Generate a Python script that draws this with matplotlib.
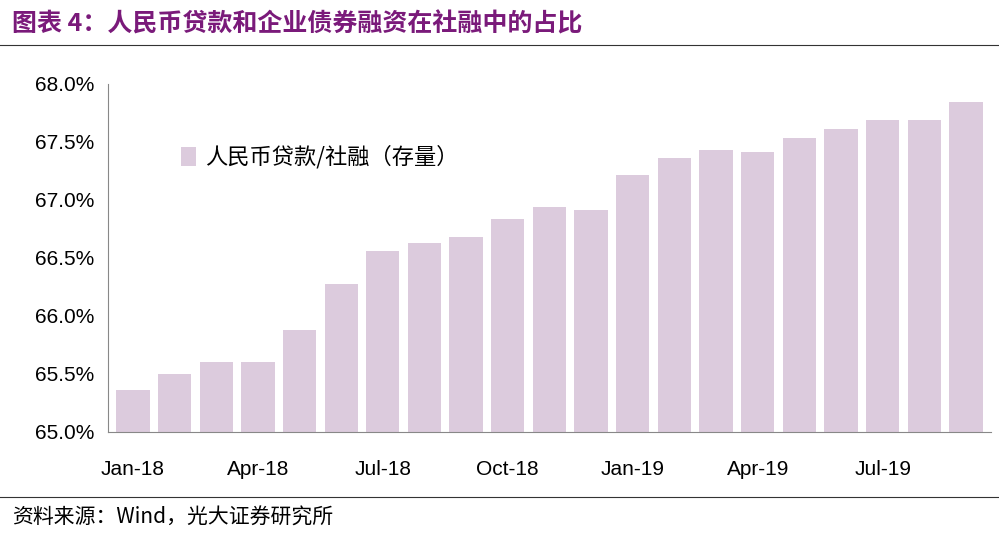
import matplotlib
matplotlib.use("Agg")
import matplotlib.pyplot as plt
from matplotlib.lines import Line2D

plt.rcParams['font.family'] = ['Noto Sans CJK SC', 'DejaVu Sans']

months = ["Jan-18", "Feb-18", "Mar-18", "Apr-18", "May-18", "Jun-18", "Jul-18",
          "Aug-18", "Sep-18", "Oct-18", "Nov-18", "Dec-18", "Jan-19", "Feb-19",
          "Mar-19", "Apr-19", "May-19", "Jun-19", "Jul-19", "Aug-19", "Sep-19"]
share = [65.36, 65.50, 65.60, 65.60, 65.88, 66.27, 66.56, 66.63, 66.68, 66.83,
         66.94, 66.91, 67.21, 67.36, 67.43, 67.41, 67.53, 67.61, 67.69, 67.69, 67.84]
tick_labels = ["Jan-18", "Apr-18", "Jul-18", "Oct-18", "Jan-19", "Apr-19", "Jul-19"]

fig = plt.figure(figsize=(9.99, 5.33), dpi=100)
ax = fig.add_axes([0.108, 0.19, 0.884, 0.653])

x = list(range(len(months)))
ax.bar(x, [v - 65 for v in share], bottom=65, width=0.8, color="#dccbdd",
       label="人民币贷款/社融（存量）")
ax.set_ylim(65, 68)
ax.set_xlim(-0.6, len(months) - 0.4)
ax.set_yticks([65 + 0.5 * i for i in range(7)])
ax.set_yticklabels([f"{65 + 0.5 * i:.1f}%" for i in range(7)], fontsize=15,
                   family=['Liberation Sans', 'DejaVu Sans'])
ax.set_xticks([months.index(m) for m in tick_labels])
ax.set_xticklabels(tick_labels, fontsize=15, family=['Liberation Sans', 'DejaVu Sans'])
ax.tick_params(axis="y", length=0, pad=10)
ax.tick_params(axis="x", length=0, pad=20)
for s in ["top", "right"]:
    ax.spines[s].set_visible(False)
ax.spines["left"].set_color("#888888")
ax.spines["bottom"].set_color("#888888")
ax.legend(loc="upper left", bbox_to_anchor=(0.06, 0.88), frameon=False, fontsize=16,
          handlelength=0.7, handleheight=0.9, handletextpad=0.4)

fig.text(0.012, 0.955, "图表 4：人民币贷款和企业债券融资在社融中的占比", fontsize=18,
         color="#7a1a7a", fontweight="bold", va="center")
fig.add_artist(Line2D([0.0, 1.0], [0.915, 0.915], color="#333333", lw=0.8))
fig.add_artist(Line2D([0.0, 1.0], [0.068, 0.068], color="#333333", lw=0.8))
fig.text(0.012, 0.028, "资料来源：Wind，光大证券研究所", fontsize=15, va="center")

fig.savefig("out.png")
